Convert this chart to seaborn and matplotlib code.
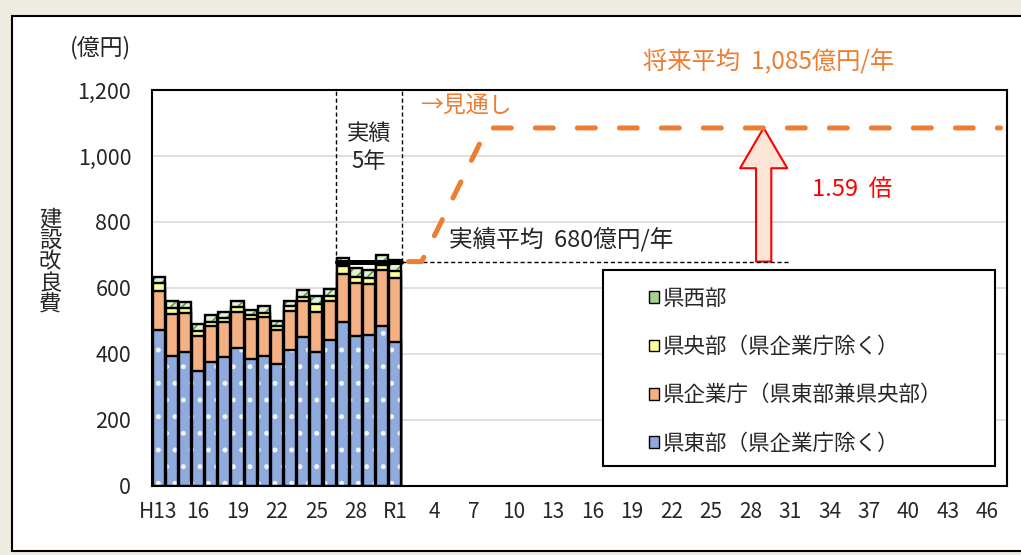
import matplotlib
matplotlib.use("Agg")
import numpy as np
import pandas as pd
import matplotlib.pyplot as plt
import seaborn as sns
from matplotlib.patches import Patch, Rectangle

# fiscal years H13..H30, R1..R47 (category axis)
years = [f"H{y}" for y in range(13, 31)] + [f"R{y}" for y in range(1, 48)]
actual_years = years[:19]
xtick_labels = ["H13", "16", "19", "22", "25", "28", "R1", "4", "7", "10", "13",
                "16", "19", "22", "25", "28", "31", "34", "37", "40", "43", "46"]

# 億円
east = [474, 393, 406, 349, 377, 391, 417, 386, 393, 369, 411, 451, 407, 443, 498, 454, 459, 485, 436]
enterprise = [118, 127, 119, 105, 108, 107, 111, 120, 120, 104, 119, 109, 121, 117, 145, 160, 154, 169, 193]
central = [22, 20, 15, 15, 12, 12, 15, 12, 12, 11, 15, 13, 24, 15, 23, 20, 18, 15, 22]
west = [20, 22, 17, 23, 21, 18, 17, 16, 19, 17, 17, 22, 25, 22, 24, 28, 24, 31, 35]

actual_avg = 680
future_avg = 1085
ratio = 1.59
proj_years = ["R2", "R3", "R8", "R47"]
proj_values = [actual_avg, actual_avg, future_avg, future_avg]
last5 = actual_years[-5:]

labels = ["県東部（県企業庁除く）", "県企業庁（県東部兼県央部）", "県央部（県企業庁除く）", "県西部"]
colors = ["#8FAADC", "#F4B183", "#FFFF99", "#E2F0D9"]
hatches = [".", None, None, "///"]
hatch_colors = ["#EEF2FA", None, None, "#5E9E3A"]

sns.set_theme(style="white")
plt.rcParams["font.family"] = ["Noto Sans CJK JP", "DejaVu Sans"]
plt.rcParams["hatch.linewidth"] = 1.2

fig = plt.figure(figsize=(10.21, 5.55), dpi=100)
fig.patch.set_facecolor("#EEECE1")
fig.add_artist(Rectangle((12 / 1021, 4 / 555), 1.0, 0.964, transform=fig.transFigure,
                         facecolor="white", edgecolor="black", lw=1.5, zorder=-1))
ax = fig.add_axes([152 / 1021, 69 / 555, 855 / 1021, 396 / 555])

df = pd.DataFrame({"year": actual_years, "east": east, "enterprise": enterprise,
                   "central": central, "west": west})
cum = df[["east", "enterprise", "central", "west"]].cumsum(axis=1)

# stacked bars: draw cumulative totals from the top layer down
for i in [3, 2, 1, 0]:
    col = cum.columns[i]
    kw = {}
    if hatches[i]:
        kw = dict(hatch=hatches[i], edgecolor=hatch_colors[i])
    sns.barplot(x=df["year"], y=cum[col], order=years, color=colors[i], saturation=1,
                width=0.92, linewidth=0, errorbar=None, ax=ax, **kw)
    sns.barplot(x=df["year"], y=cum[col], order=years, color="black", fill=False,
                width=0.92, linewidth=1.7, errorbar=None, ax=ax)

xi = [years.index(y) for y in last5]
# average line of last 5 years
ax.plot([xi[0] - 0.4, xi[-1] + 0.4], [actual_avg, actual_avg], color="black", lw=3.6,
        solid_capstyle="round", zorder=6)
ax.plot([xi[-1] + 0.5, years.index("R31")], [actual_avg, actual_avg], color="black",
        lw=1, ls=(0, (3, 2)), zorder=6)
for xv in [xi[0] - 0.5, xi[-1] + 0.5]:
    ax.plot([xv, xv], [actual_avg, 1200], color="black", lw=1, ls=(0, (3, 2)), zorder=6)

# projection
px = [years.index(y) for y in proj_years]
ax.plot(px, proj_values, color="#ED7D31", lw=3.6, ls=(0, (3.6, 4.8)),
        dash_capstyle="round", zorder=6)

# ratio arrow
ax_x = years.index("R29")
ax.annotate("", xy=(ax_x, future_avg), xytext=(ax_x, actual_avg),
            arrowprops=dict(arrowstyle="simple,head_length=1.45,head_width=1.7,tail_width=0.55",
                            mutation_scale=20, fc="#FBE5D6", ec="red", lw=1.5,
                            shrinkA=0, shrinkB=0), zorder=5)

ax.text((xi[0] + xi[-1]) / 2, 1025, "実績\n5年", ha="center", va="center", fontsize=16,
        linespacing=1.3)
ax.text(19.9, 1152, "→見通し", color="#ED7D31", fontsize=16.5, va="center")
ax.text(22.1, 748, f"実績平均  {actual_avg}億円/年", fontsize=17, va="center")
ax.text(36.8, 1285, f"将来平均  {future_avg:,}億円/年", color="#ED7D31", fontsize=17.5,
        va="center", clip_on=False)
ax.text(49.7, 897, f"{ratio:.2f}  倍", color="red", fontsize=17, va="center")

# legend
ax.add_patch(Rectangle((0.527, 0.05), 0.459, 0.495, transform=ax.transAxes,
                       facecolor="white", edgecolor="black", lw=1.5, zorder=7))
handles = []
for i in [3, 2, 1, 0]:
    handles.append(Patch(facecolor=colors[i] if i != 3 else "#A9D18E",
                         edgecolor="black", lw=1, label=labels[i]))
leg = ax.legend(handles=handles, loc="upper left", bbox_to_anchor=(0.571, 0.522),
                frameon=False, fontsize=15.5, handlelength=0.45, handleheight=0.45,
                handletextpad=0.2, labelspacing=1.22, borderaxespad=0)
leg.set_zorder(8)

ax.set_ylim(0, 1200)
ax.set_yticks(range(0, 1201, 200))
ax.set_yticklabels([f"{v:,}" for v in range(0, 1201, 200)], fontsize=15.5)
ax.set_xticks(range(0, len(years), 3))
ax.set_xticklabels(xtick_labels, fontsize=15)
ax.set_xticks(np.arange(-0.5, len(years), 1), minor=True)
ax.tick_params(axis="x", which="major", length=0, pad=11)
ax.tick_params(axis="x", which="minor", length=5, width=1.2, color="black", direction="out")
ax.tick_params(axis="y", length=0, pad=15)
ax.set_xlim(-0.5, len(years) - 0.5)
ax.set_xlabel("")
ax.set_ylabel("")
ax.yaxis.grid(True, color="#D9D9D9", lw=1.2)
ax.set_axisbelow(True)
for s in ax.spines.values():
    s.set_color("black")
    s.set_linewidth(1.5)

fig.text(100 / 1021, 1 - 48 / 555, "(億円)", ha="center", va="center", fontsize=16.5)
fig.text(50 / 1021, 1 - 262 / 555, "\n".join("建設改良費"), ha="center", va="center",
         fontsize=16, linespacing=0.92)

fig.savefig("out.png", dpi=100, facecolor=fig.get_facecolor())
